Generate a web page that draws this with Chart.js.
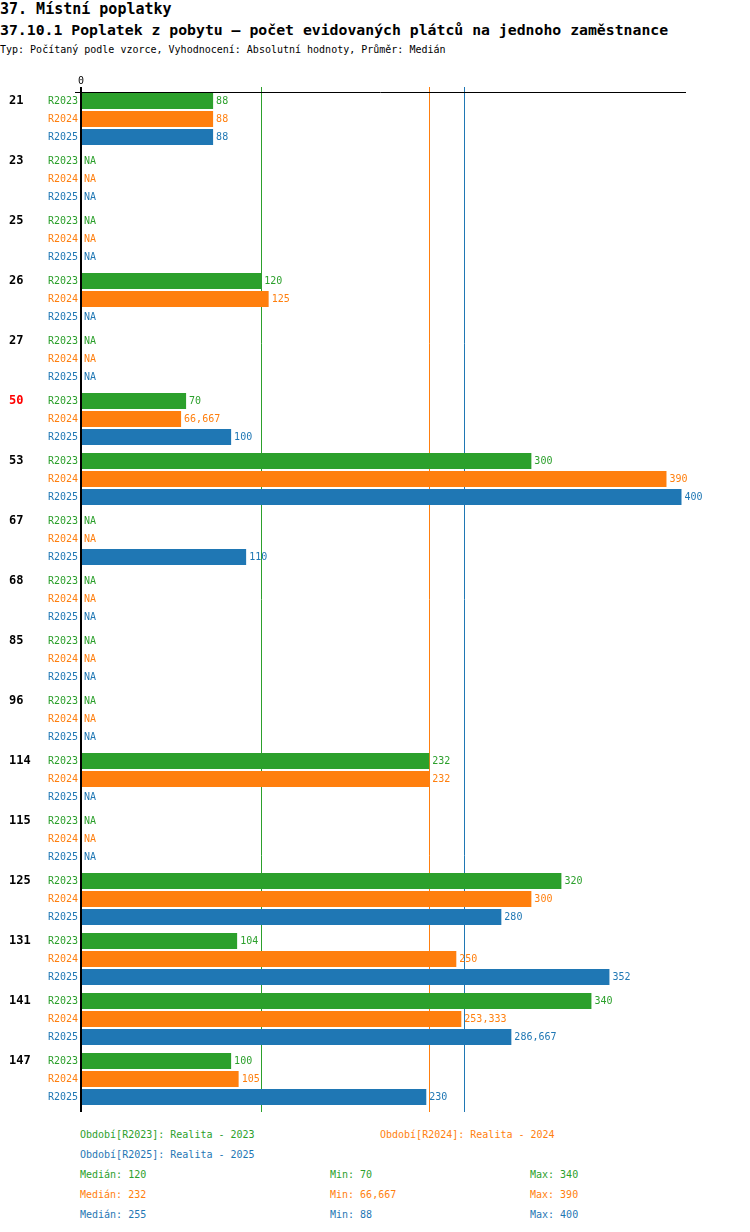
<!DOCTYPE html>
<html lang="cs">
  <head>
    <meta charset="UTF-8" />
    <title>37.10.1 Poplatek z pobytu</title>
  </head>
  <style>
    * {
      margin: 0;
      padding: 0;
      font-family: "DejaVu Sans Mono", monospace;
    }
    body {
      width: 750px;
      height: 1232px;
      position: relative;
      background: white;
    }
    .head {
      position: absolute;
      left: 0;
      white-space: nowrap;
      color: #000;
    }
    .h1 { top: 0px; font-size: 15px; font-weight: bold; }
    .h2 { top: 21px; font-size: 14.8px; font-weight: bold; }
    .h3 { top: 44px; font-size: 10px; }
    #myChart {
      position: absolute;
      left: 0;
      top: 0;
    }
    .leg {
      position: absolute;
      font-size: 10px;
      white-space: nowrap;
    }
  </style>
  <body>
    <div class="head h1">37. Místní poplatky</div>
    <div class="head h2">37.10.1 Poplatek z pobytu – počet evidovaných plátců na jednoho zaměstnance</div>
    <div class="head h3">Typ: Počítaný podle vzorce, Vyhodnocení: Absolutní hodnoty, Průměr: Medián</div>

    <canvas id="myChart" width="750" height="1120"></canvas>
    <div id="legend"></div>

    <script src="https://cdn.jsdelivr.net/npm/chart.js"></script>

    <script>
      // data
      const categories = ["21", "23", "25", "26", "27", "50", "53", "67", "68", "85", "96", "114", "115", "125", "131", "141", "147"];
      const highlighted = ["50"];
      const seriesNames = ["R2023", "R2024", "R2025"];
      const seriesTitles = ["Realita - 2023", "Realita - 2024", "Realita - 2025"];
      const r2023 = [88, null, null, 120, null, 70, 300, null, null, null, null, 232, null, 320, 104, 340, 100];
      const r2024 = [88, null, null, 125, null, 66.667, 390, null, null, null, null, 232, null, 300, 250, 253.333, 105];
      const r2025 = [88, null, null, null, null, 100, 400, 110, null, null, null, null, null, 280, 352, 286.667, 230];
      const colors = ["#2ca02c", "#ff7f0e", "#1f77b4"];

      const series = [r2023, r2024, r2025];

      function fmt(v) {
        return String(Math.round(v * 1000) / 1000).replace(".", ",");
      }

      function median(arr) {
        const s = arr.filter(v => v !== null).sort((a, b) => a - b);
        const m = Math.floor(s.length / 2);
        return s.length % 2 ? s[m] : (s[m - 1] + s[m]) / 2;
      }

      const stats = series.map(arr => {
        const vals = arr.filter(v => v !== null);
        return { med: median(arr), min: Math.min(...vals), max: Math.max(...vals) };
      });

      // plugin: axes, median lines, labels
      const decor = {
        id: "decor",
        beforeDatasetsDraw(chart) {
          const { ctx, chartArea, scales } = chart;
          ctx.save();
          // median lines
          stats.forEach((s, i) => {
            const x = Math.round(scales.x.getPixelForValue(s.med)) + 0.5;
            ctx.strokeStyle = colors[i];
            ctx.lineWidth = 1;
            ctx.beginPath();
            ctx.moveTo(x, chartArea.top - 2);
            ctx.lineTo(x, chartArea.bottom + 3);
            ctx.stroke();
          });
          // top line
          ctx.strokeStyle = "#000";
          ctx.beginPath();
          ctx.moveTo(chartArea.left - 6, chartArea.top + 3.5);
          ctx.lineTo(chartArea.right, chartArea.top + 3.5);
          ctx.stroke();
          // zero label
          ctx.fillStyle = "#000";
          ctx.font = "10px 'DejaVu Sans Mono'";
          ctx.textAlign = "center";
          ctx.textBaseline = "middle";
          ctx.fillText("0", scales.x.getPixelForValue(0), chartArea.top - 8);
          ctx.restore();
        },
        afterDatasetsDraw(chart) {
          const { ctx, chartArea, scales } = chart;
          ctx.save();
          // value axis line
          ctx.fillStyle = "#000";
          ctx.fillRect(chartArea.left - 1, chartArea.top - 2, 2, chartArea.bottom - chartArea.top + 5);

          ctx.textBaseline = "middle";
          series.forEach((arr, i) => {
            const meta = chart.getDatasetMeta(i);
            arr.forEach((v, j) => {
              const el = meta.data[j];
              const y = el.y;
              ctx.fillStyle = colors[i];
              ctx.font = "10px 'DejaVu Sans Mono'";
              // series label
              ctx.textAlign = "right";
              ctx.fillText(seriesNames[i], chartArea.left - 3, y);
              // value
              ctx.textAlign = "left";
              if (v === null) {
                ctx.fillText("NA", chartArea.left + 3, y);
              } else {
                ctx.fillText(fmt(v), scales.x.getPixelForValue(v) + 3, y);
              }
              // category label
              if (i === 0) {
                ctx.font = "bold 12px 'DejaVu Sans Mono'";
                ctx.fillStyle = highlighted.includes(categories[j]) ? "#ff0000" : "#000";
                ctx.fillText(categories[j], 9, y);
              }
            });
          });
          ctx.restore();
        }
      };

      const data = {
        labels: categories,
        datasets: series.map((arr, i) => ({
          label: seriesNames[i],
          data: arr,
          backgroundColor: colors[i],
          borderWidth: 0,
          categoryPercentage: 0.9,
          barPercentage: 16 / 18
        }))
      };

      const config = {
        type: "bar",
        data,
        options: {
          indexAxis: "y",
          responsive: false,
          animation: false,
          layout: {
            padding: { left: 81, right: 64, top: 89, bottom: 11 }
          },
          plugins: {
            legend: { display: false },
            tooltip: { enabled: false }
          },
          scales: {
            x: { display: false, min: 0, max: 403 },
            y: { display: false }
          }
        },
        plugins: [decor]
      };

      const myChart = new Chart(document.getElementById("myChart"), config);

      // legend below the chart
      const legend = document.getElementById("legend");
      function addText(text, x, y, color) {
        const d = document.createElement("div");
        d.className = "leg";
        d.style.left = x + "px";
        d.style.top = y + "px";
        d.style.color = color;
        d.textContent = text;
        legend.appendChild(d);
      }
      const legPos = [[80, 1129], [380, 1129], [80, 1149]];
      seriesNames.forEach((n, i) => {
        addText("Období[" + n + "]: " + seriesTitles[i], legPos[i][0], legPos[i][1], colors[i]);
      });
      stats.forEach((s, i) => {
        const y = 1169 + i * 20;
        addText("Medián: " + fmt(s.med), 80, y, colors[i]);
        addText("Min: " + fmt(s.min), 330, y, colors[i]);
        addText("Max: " + fmt(s.max), 530, y, colors[i]);
      });
    </script>
  </body>
</html>
